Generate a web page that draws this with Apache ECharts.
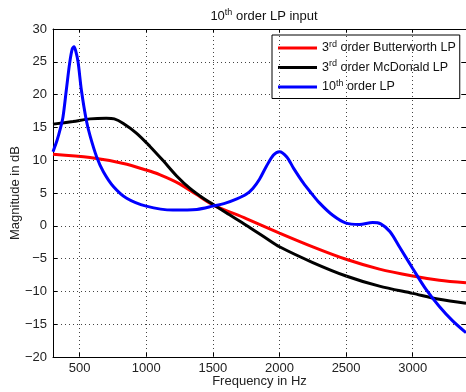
<!DOCTYPE html>
<html><head><meta charset="utf-8">
<script src="https://cdn.jsdelivr.net/npm/echarts@6/dist/echarts.min.js"></script>
<style>html,body{margin:0;padding:0;background:#fff}#c{width:466px;height:392px}</style>
</head><body><div id="c"></div>
<script>
var xTicks = [500, 1000, 1500, 2000, 2500, 3000];
var yTicks = [-20, -15, -10, -5, 0, 5, 10, 15, 20, 25, 30];

var butterFreq = [300, 578, 828, 1000, 1100, 1250, 1375, 1500, 1750, 2000, 2250, 2500, 2750, 3000, 3200, 3400];
var butterDb   = [10.9, 10.4, 9.5, 8.5, 7.8, 6.4, 4.8, 3.2, 1.1, -1.1, -3.2, -5.1, -6.6, -7.65, -8.3, -8.7];

var mcdFreq = [300, 450, 578, 700, 760, 828, 928, 1028, 1128, 1228, 1328, 1428, 1500, 1600, 1750, 1900, 2000, 2250, 2500, 2750, 3000, 3200, 3400];
var mcdDb   = [15.5, 15.9, 16.3, 16.4, 16.3, 15.6, 14.1, 12.1, 9.9, 7.6, 5.7, 4.2, 3.3, 2.0, 0.1, -1.9, -3.2, -5.6, -7.65, -9.2, -10.3, -11.2, -11.8];

var tenFreq = [300, 330, 355, 375, 400, 425, 445, 458, 470, 488, 513, 550, 580, 628, 678, 753, 853, 1000, 1200, 1380, 1500, 1600, 1680, 1750, 1800, 1850, 1900, 1955, 2000, 2055, 2105, 2180, 2230, 2300, 2400, 2500, 2600, 2700, 2760, 2830, 2900, 3000, 3100, 3200, 3300, 3400];
var tenDb   = [11.3, 13.0, 14.8, 16.6, 20.7, 24.8, 27.0, 27.3, 26.7, 25.0, 20.7, 16.1, 13.6, 10.5, 8.25, 6.0, 4.2, 3.0, 2.4, 2.5, 3.0, 3.5, 4.1, 4.8, 5.7, 7.1, 9.0, 10.8, 11.3, 10.5, 8.8, 6.5, 5.2, 3.5, 1.6, 0.4, 0.2, 0.5, 0.3, -0.9, -3.2, -6.5, -9.7, -12.3, -14.5, -16.3];

function zip(a, b) { return a.map(function (v, i) { return [v, b[i]]; }); }
function fmtNum(v) { return v < 0 ? '\u2212' + Math.abs(v) : String(v); }

var FONT = 'Liberation Sans';
var chart = echarts.init(document.getElementById('c'), null, {renderer: 'canvas'});
function rich(fs) {
  return {
    base: {fontFamily: FONT, fontSize: fs, color: '#111'},
    sup: {fontFamily: FONT, fontSize: 9, color: '#111', padding: [0, 0, 7, 0]}
  };
}
var legendNames = {
  'b': '{base|3}{sup|rd}{base| order Butterworth LP}',
  'm': '{base|3}{sup|rd}{base| order McDonald LP}',
  't': '{base|10}{sup|th}{base| order LP}'
};

chart.setOption({
  animation: false,
  backgroundColor: '#fff',
  textStyle: {fontFamily: FONT},
  title: {
    text: '{base|10}{sup|th}{base| order LP input}',
    left: 259, top: 3, textAlign: 'center',
    textStyle: {rich: rich(13), fontWeight: 'normal'}
  },
  grid: {left: 53, top: 29, width: 413, height: 328, containLabel: false, outerBoundsMode: 'none'},
  legend: {
    orient: 'vertical', left: 272, top: 35,
    padding: [5, 4, 5, 6], itemGap: 5, itemTextGap: 5,
    backgroundColor: '#fff', borderColor: '#000', borderWidth: 1,
    icon: 'rect', itemWidth: 39, itemHeight: 3,
    data: ['b', 'm', 't'],
    formatter: function (n) { return legendNames[n]; },
    textStyle: {rich: rich(12.5), fontSize: 12.5}
  },
  xAxis: [{
    type: 'value', min: 300, max: 3400, position: 'bottom',
    axisLine: {show: true, onZero: false, lineStyle: {color: '#000'}},
    axisTick: {show: true, inside: true, length: 4, lineStyle: {color: '#000'}, customValues: xTicks},
    axisLabel: {show: true, customValues: xTicks, fontFamily: FONT, fontSize: 13, color: '#222', margin: 5,
      formatter: function (v) { return String(v); }},
    splitLine: {show: false},
    name: 'Frequency in Hz', nameLocation: 'middle', nameGap: 18, nameMoveOverlap: false,
    nameTextStyle: {fontFamily: FONT, fontSize: 13, color: '#222'}
  }, {
    type: 'value', min: 300, max: 3400, position: 'top',
    axisLine: {show: true, onZero: false, lineStyle: {color: '#000'}},
    axisTick: {show: true, inside: true, length: 4, lineStyle: {color: '#000'}, customValues: xTicks},
    axisLabel: {show: false},
    splitLine: {show: false}
  }],
  yAxis: [{
    type: 'value', min: -20, max: 30, interval: 5, position: 'left',
    axisLine: {show: true, onZero: false, lineStyle: {color: '#000'}},
    axisTick: {show: true, inside: true, length: 4, lineStyle: {color: '#000'}},
    axisLabel: {fontFamily: FONT, fontSize: 13, color: '#222', margin: 6, formatter: fmtNum},
    splitLine: {show: true, lineStyle: {color: '#444', type: [1, 3], width: 1}},
    name: 'Magnitude in dB', nameLocation: 'middle', nameGap: 31, nameRotate: 90, nameMoveOverlap: false,
    nameTextStyle: {fontFamily: FONT, fontSize: 13, color: '#222'}
  }, {
    type: 'value', min: -20, max: 30, interval: 5, position: 'right',
    axisLine: {show: true, onZero: false, lineStyle: {color: '#000'}},
    axisTick: {show: true, inside: true, length: 4, lineStyle: {color: '#000'}},
    axisLabel: {show: false},
    splitLine: {show: false}
  }],
  series: [
    {type: 'line', name: 'vgrid', xAxisIndex: 0, yAxisIndex: 0, data: [], silent: true,
      markLine: {silent: true, symbol: 'none', label: {show: false},
        lineStyle: {color: '#444', type: [1, 3], width: 1},
        data: xTicks.map(function (v) { return {xAxis: v}; })}},
    {type: 'line', name: 'b', data: zip(butterFreq, butterDb), smooth: 0.3, showSymbol: false,
      lineStyle: {color: '#ff0000', width: 3}, itemStyle: {color: '#ff0000'}, z: 3},
    {type: 'line', name: 'm', data: zip(mcdFreq, mcdDb), smooth: 0.3, showSymbol: false,
      lineStyle: {color: '#000000', width: 3}, itemStyle: {color: '#000000'}, z: 4},
    {type: 'line', name: 't', data: zip(tenFreq, tenDb), smooth: 0.3, showSymbol: false,
      lineStyle: {color: '#0000ff', width: 3}, itemStyle: {color: '#0000ff'}, z: 5}
  ]
});
</script>
</body></html>
